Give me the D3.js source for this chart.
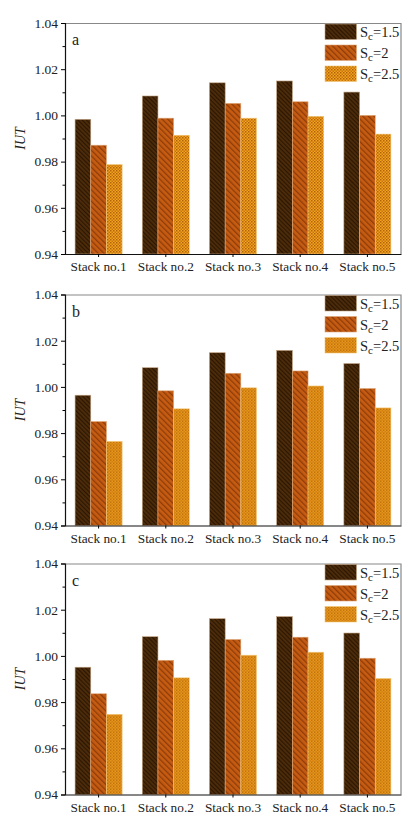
<!DOCTYPE html>
<html>
<head>
<meta charset="utf-8">
<script src="https://cdn.jsdelivr.net/npm/d3@7"></script>
<style>
  body { margin: 0; background: #fff; }
  text { font-family: "Liberation Serif", "Times New Roman", serif; }
</style>
</head>
<body>
<svg id="chart" width="413" height="824"></svg>
<script>
// chart data
var stacks = ["Stack no.1", "Stack no.2", "Stack no.3", "Stack no.4", "Stack no.5"];
var seriesSc = ["1.5", "2", "2.5"];
var panelNames = ["a", "b", "c"];
var yTicks = [0.94, 0.96, 0.98, 1.00, 1.02, 1.04];

var panelA = [
  [0.9983, 1.0084, 1.0141, 1.0149, 1.0101],
  [0.9871, 0.9988, 1.0052, 1.0059, 1.0000],
  [0.9787, 0.9914, 0.9988, 0.9996, 0.9919]
];
var panelB = [
  [0.9964, 1.0083, 1.0148, 1.0158, 1.0101],
  [0.9850, 0.9983, 1.0059, 1.0069, 0.9993],
  [0.9764, 0.9905, 0.9996, 1.0004, 0.9909]
];
var panelC = [
  [0.9951, 1.0083, 1.0161, 1.0170, 1.0099],
  [0.9836, 0.9981, 1.0071, 1.0081, 0.9990],
  [0.9747, 0.9905, 1.0003, 1.0016, 0.9902]
];
var panels = [panelA, panelB, panelC];

var svg = d3.select("#chart");
var defs = svg.append("defs");

// dark brown, fine diagonal hatch
var p1 = defs.append("pattern").attr("id", "pat0")
    .attr("patternUnits", "userSpaceOnUse").attr("width", 3).attr("height", 3)
    .attr("patternTransform", "rotate(-45)");
p1.append("rect").attr("width", 3).attr("height", 3).attr("fill", "#4c2c0a");
p1.append("rect").attr("width", 1.1).attr("height", 3).attr("fill", "#2c1602");

// orange, wider diagonal hatch
var p2 = defs.append("pattern").attr("id", "pat1")
    .attr("patternUnits", "userSpaceOnUse").attr("width", 4).attr("height", 4)
    .attr("patternTransform", "rotate(-45)");
p2.append("rect").attr("width", 4).attr("height", 4).attr("fill", "#c65c12");
p2.append("rect").attr("width", 1.3).attr("height", 4).attr("fill", "#8e3c0a");

// light orange, checker
var p3 = defs.append("pattern").attr("id", "pat2")
    .attr("patternUnits", "userSpaceOnUse").attr("width", 3).attr("height", 3);
p3.append("rect").attr("width", 3).attr("height", 3).attr("fill", "#f2a21e");
p3.append("rect").attr("width", 1.5).attr("height", 1.5).attr("fill", "#b06408");
p3.append("rect").attr("x", 1.5).attr("y", 1.5).attr("width", 1.5).attr("height", 1.5).attr("fill", "#c87410");

var strokes = ["#c0a080", "#e0a878", "#f4c878"];

var margin = {left: 65, right: 12},
    plotW = 413 - margin.left - margin.right,
    plotH = 231;
var tops = [23, 294.5, 563.5];

panels.forEach(function(vals, pi) {
  var g = svg.append("g").attr("transform", "translate(" + margin.left + "," + tops[pi] + ")");

  var x = d3.scaleBand().domain(stacks).range([0, plotW]).paddingInner(0.3).paddingOuter(0.15);
  var xs = d3.scaleBand().domain(seriesSc).range([0, x.bandwidth()]);
  var y = d3.scaleLinear().domain([0.94, 1.04]).range([plotH, 0]);

  // frame top/right
  g.append("path")
    .attr("d", "M0,0.5H" + plotW + "V" + plotH)
    .attr("fill", "none").attr("stroke", "#888").attr("stroke-width", 1.2);

  // bars
  seriesSc.forEach(function(s, si) {
    g.selectAll(".bar" + si).data(vals[si]).enter().append("rect")
      .attr("x", function(d, i) { return x(stacks[i]) + xs(s); })
      .attr("width", xs.bandwidth())
      .attr("y", function(d) { return y(d); })
      .attr("height", function(d) { return plotH - y(d); })
      .attr("fill", "url(#pat" + si + ")")
      .attr("stroke", strokes[si]).attr("stroke-width", 0.6);
  });

  // y axis with minor ticks
  var minor = d3.range(0.95, 1.04, 0.02);
  g.append("g").call(d3.axisLeft(y).tickValues(minor).tickSize(2.5).tickFormat(""))
    .call(function(a) { a.select(".domain").remove(); });
  var ya = g.append("g").call(d3.axisLeft(y).tickValues(yTicks).tickSize(4).tickPadding(3)
      .tickFormat(d3.format(".2f")))
    .attr("font-family", "Liberation Serif");
  ya.selectAll("text").attr("font-size", 13.5).attr("fill", "#222");
  ya.select(".domain").attr("stroke", "#111").attr("stroke-width", 1.2);

  // x axis
  var xa = g.append("g").attr("transform", "translate(0," + plotH + ")")
    .call(d3.axisBottom(x).tickSize(3).tickPadding(5).tickSizeOuter(0))
    .attr("font-family", "Liberation Serif");
  xa.selectAll("text").attr("font-size", 13.3).attr("fill", "#222");
  xa.select(".domain").attr("stroke", "#111").attr("stroke-width", 1.2);

  // y label
  g.append("text")
    .attr("transform", "translate(-40," + plotH / 2 + ") rotate(-90)")
    .attr("text-anchor", "middle").attr("font-size", 14).attr("font-style", "italic")
    .attr("fill", "#222")
    .text("IUT");

  // panel letter
  g.append("text").attr("x", 7).attr("y", 22).attr("font-size", 16).attr("fill", "#222")
    .text(panelNames[pi]);

  // legend
  var lg = g.append("g").attr("transform", "translate(260,1)");
  seriesSc.forEach(function(s, si) {
    var row = lg.append("g").attr("transform", "translate(0," + si * 21 + ")");
    row.append("rect").attr("width", 31.5).attr("height", 15.5)
      .attr("fill", "url(#pat" + si + ")").attr("stroke", strokes[si]).attr("stroke-width", 0.6);
    var t = row.append("text").attr("x", 35).attr("y", 13).attr("font-size", 14.5).attr("fill", "#222");
    t.append("tspan").text("S");
    t.append("tspan").attr("font-size", 11).attr("dy", 3).text("c");
    t.append("tspan").attr("dy", -3).text("=" + s);
  });
});
</script>
</body>
</html>
